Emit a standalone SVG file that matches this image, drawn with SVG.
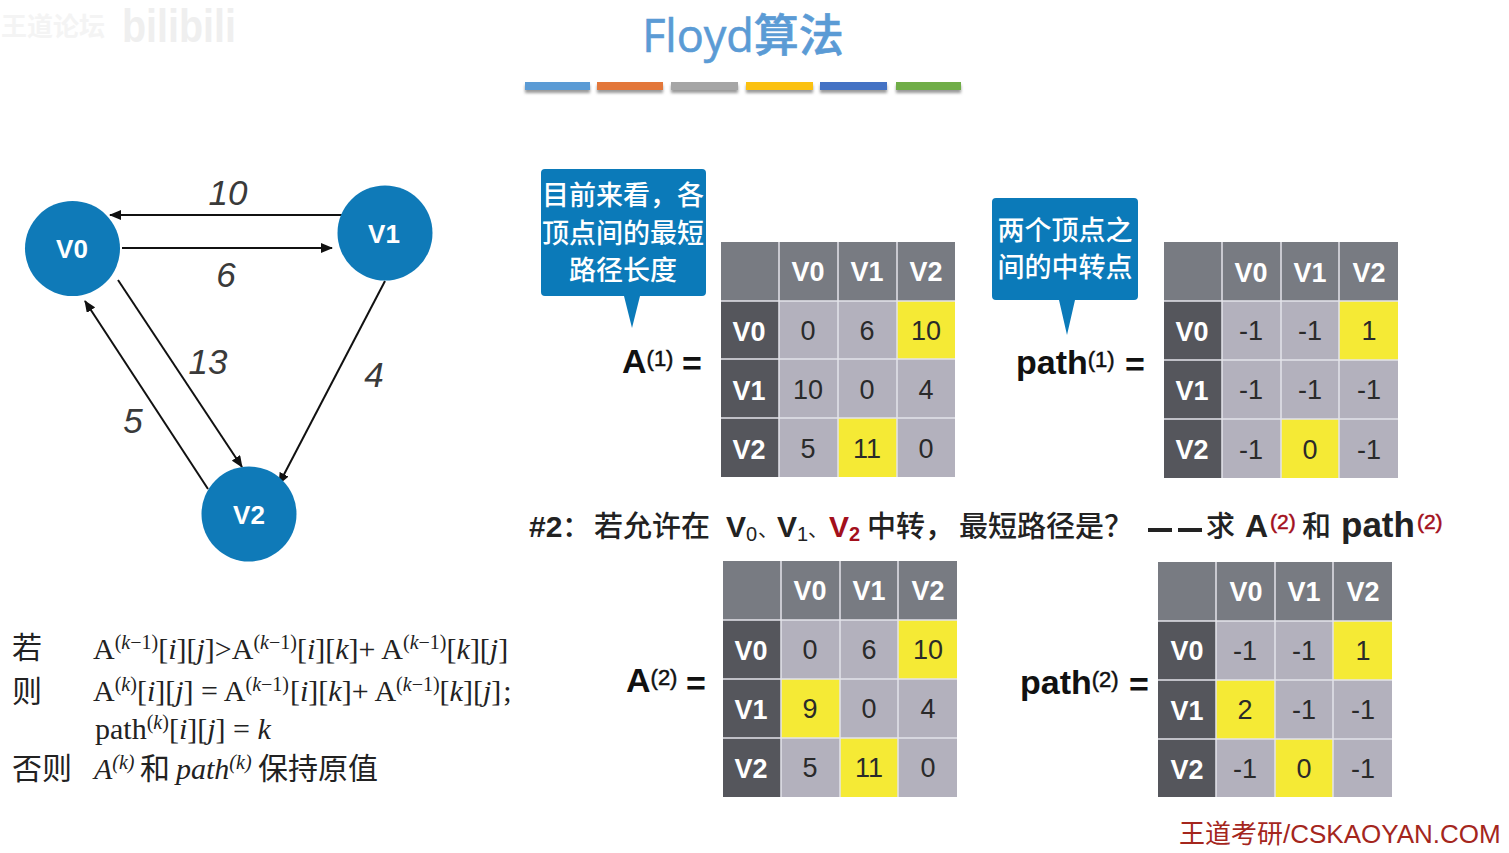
<svg xmlns="http://www.w3.org/2000/svg" width="1509" height="853" viewBox="0 0 1509 853">
<style>
text{font-family:"Liberation Sans","Noto Sans CJK SC",sans-serif}
.cjk{font-family:"Noto Sans CJK SC",sans-serif}
.hd{fill:#787b82}.rh{fill:#55565c}.c{fill:#b3b1bd}.y{fill:#f5ea35}
.grid{stroke:#e4e4ea;stroke-width:1.5}
.h{font-size:27px;font-weight:bold;fill:#fff;text-anchor:middle}
.n{font-size:27px;fill:#2a2a2a;text-anchor:middle}
.nl{font-size:26px;font-weight:bold;fill:#fff;text-anchor:middle}
.node{fill:#0f7ab8}
.e{stroke:#111;stroke-width:2;fill:none;marker-end:url(#ah)}
.w{font-size:35px;font-style:italic;fill:#3a3a3a;text-anchor:middle}
.call{fill:#0b7ab9}
.ct{font-family:"Noto Sans CJK SC",sans-serif;font-size:27px;font-weight:500;fill:#fff;text-anchor:middle}
.eq{font-size:34px;font-weight:bold;fill:#111}
.sup{font-size:22px;font-weight:normal;stroke:#111;stroke-width:.5}
.f{font-family:"Liberation Serif","Noto Sans CJK SC",serif;font-size:30px;fill:#222}
.fc{font-family:"Noto Sans CJK SC",sans-serif;font-size:30px;fill:#222}
.s{font-size:20px}
.i{font-style:italic}
.q{font-family:"Noto Sans CJK SC",sans-serif;font-size:29px;font-weight:500;fill:#222}
.qb{font-size:30px;font-weight:bold;fill:#222}
.r{font-size:21px;font-weight:normal;fill:#a3101c;stroke:#a3101c;stroke-width:.5}
</style>
<defs>
<marker id="ah" markerWidth="12" markerHeight="10" refX="11" refY="5" orient="auto" markerUnits="userSpaceOnUse"><path d="M0 0L12 5L0 10z" fill="#111"/></marker>
<filter id="sh" x="-10%" y="-50%" width="120%" height="220%"><feGaussianBlur stdDeviation="1.500"/></filter>
</defs>
<rect width="1509" height="853" fill="#fff"/>

<g id="watermark">
<text x="1" y="36" class="cjk" font-size="26" font-weight="bold" fill="#f4f4f4">王道论坛</text>
<text x="122" y="42" font-size="46" font-weight="bold" fill="#efefef" textLength="114" lengthAdjust="spacingAndGlyphs">bilibili</text>
</g>

<g id="title">
<text x="743" y="52" font-size="45" font-weight="500" fill="#5b9bd5" stroke="#5b9bd5" stroke-width=".6" text-anchor="middle" style="font-family:'Open Sans','Noto Sans CJK SC',sans-serif">Floyd算法</text>
<g fill="#999" filter="url(#sh)">
<rect x="525" y="85" width="65" height="8"/><rect x="597" y="85" width="66" height="8"/><rect x="671" y="85" width="67" height="8"/><rect x="746" y="85" width="67" height="8"/><rect x="820" y="85" width="67" height="8"/><rect x="896" y="85" width="65" height="8"/>
</g>
<rect x="525" y="82" width="65" height="8" fill="#5b9bd5"/>
<rect x="597" y="82" width="66" height="8" fill="#e3773a"/>
<rect x="671" y="82" width="67" height="8" fill="#a5a5a5"/>
<rect x="746" y="82" width="67" height="8" fill="#fbc110"/>
<rect x="820" y="82" width="67" height="8" fill="#4472c4"/>
<rect x="896" y="82" width="65" height="8" fill="#70ad47"/>
</g>

<g id="connectors">
<path class="e" d="M345 215L110 215"/>
<path class="e" d="M122 248L332 248"/>
<path class="e" d="M118 280L242 467"/>
<path class="e" d="M208 489L85 301"/>
<path class="e" d="M385 281L279 484"/>
<text class="w" x="228" y="205">10</text>
<text class="w" x="226" y="287">6</text>
<text class="w" x="208" y="374">13</text>
<text class="w" x="133" y="433">5</text>
<text class="w" x="374" y="387">4</text>
</g>
<g id="nodeV0"><circle class="node" cx="72.500" cy="248.500" r="47.500"/><text class="nl" x="72" y="258">V0</text></g>
<g id="nodeV1"><circle class="node" cx="385" cy="233" r="47.500"/><text class="nl" x="384" y="243">V1</text></g>
<g id="nodeV2"><circle class="node" cx="249" cy="514" r="47.500"/><text class="nl" x="249" y="524">V2</text></g>

<g id="callout1">
<path class="call" d="M545 169H702a4 4 0 0 1 4 4V292a4 4 0 0 1-4 4H640L632 328L624 296H545a4 4 0 0 1-4-4V173a4 4 0 0 1 4-4z"/>
<text class="ct" x="623" y="205">目前来看，各</text>
<text class="ct" x="623" y="243">顶点间的最短</text>
<text class="ct" x="623" y="280">路径长度</text>
</g>
<g id="callout2">
<path class="call" d="M996 198H1134a4 4 0 0 1 4 4V296a4 4 0 0 1-4 4H1075L1067 335L1059 300H996a4 4 0 0 1-4-4V202a4 4 0 0 1 4-4z"/>
<text class="ct" x="1065" y="240">两个顶点之</text>
<text class="ct" x="1065" y="277">间的中转点</text>
</g>

<g id="tableA1">
<rect class="hd" x="721" y="242" width="234" height="59"/><rect class="rh" x="721" y="301" width="58" height="176"/><rect class="c" x="779" y="301" width="176" height="176"/>
<rect class="y" x="897" y="301" width="58" height="58"/><rect class="y" x="838" y="418" width="59" height="59"/>
<path class="grid" d="M779 242V477M838 242V477M897 242V477M721 301H955M721 359H955M721 418H955"/>
<text class="h" x="808" y="281">V0</text><text class="h" x="867" y="281">V1</text><text class="h" x="926" y="281">V2</text>
<text class="h" x="749" y="341">V0</text><text class="h" x="749" y="400">V1</text><text class="h" x="749" y="459">V2</text>
<text class="n" x="808" y="340">0</text><text class="n" x="867" y="340">6</text><text class="n" x="926" y="340">10</text>
<text class="n" x="808" y="399">10</text><text class="n" x="867" y="399">0</text><text class="n" x="926" y="399">4</text>
<text class="n" x="808" y="458">5</text><text class="n" x="867" y="458">11</text><text class="n" x="926" y="458">0</text>
</g>
<g id="tablePath1">
<rect class="hd" x="1164" y="242" width="234" height="59"/><rect class="rh" x="1164" y="301" width="58" height="177"/><rect class="c" x="1222" y="301" width="176" height="177"/>
<rect class="y" x="1339" y="301" width="59" height="59"/><rect class="y" x="1281" y="419" width="58" height="59"/>
<path class="grid" d="M1222 242V478M1281 242V478M1339 242V478M1164 301H1398M1164 360H1398M1164 419H1398"/>
<text class="h" x="1251" y="282">V0</text><text class="h" x="1310" y="282">V1</text><text class="h" x="1369" y="282">V2</text>
<text class="h" x="1192" y="341">V0</text><text class="h" x="1192" y="400">V1</text><text class="h" x="1192" y="459">V2</text>
<text class="n" x="1251" y="340">-1</text><text class="n" x="1310" y="340">-1</text><text class="n" x="1369" y="340">1</text>
<text class="n" x="1251" y="399">-1</text><text class="n" x="1310" y="399">-1</text><text class="n" x="1369" y="399">-1</text>
<text class="n" x="1251" y="459">-1</text><text class="n" x="1310" y="459">0</text><text class="n" x="1369" y="459">-1</text>
</g>
<g id="tableA2">
<rect class="hd" x="723" y="561" width="234" height="59"/><rect class="rh" x="723" y="620" width="58" height="177"/><rect class="c" x="781" y="620" width="176" height="177"/>
<rect class="y" x="898" y="620" width="59" height="59"/><rect class="y" x="781" y="679" width="59" height="59"/><rect class="y" x="840" y="738" width="58" height="59"/>
<path class="grid" d="M781 561V797M840 561V797M898 561V797M723 620H957M723 679H957M723 738H957"/>
<text class="h" x="810" y="600">V0</text><text class="h" x="869" y="600">V1</text><text class="h" x="928" y="600">V2</text>
<text class="h" x="751" y="660">V0</text><text class="h" x="751" y="719">V1</text><text class="h" x="751" y="778">V2</text>
<text class="n" x="810" y="659">0</text><text class="n" x="869" y="659">6</text><text class="n" x="928" y="659">10</text>
<text class="n" x="810" y="718">9</text><text class="n" x="869" y="718">0</text><text class="n" x="928" y="718">4</text>
<text class="n" x="810" y="777">5</text><text class="n" x="869" y="777">11</text><text class="n" x="928" y="777">0</text>
</g>
<g id="tablePath2">
<rect class="hd" x="1158" y="562" width="234" height="59"/><rect class="rh" x="1158" y="621" width="58" height="176"/><rect class="c" x="1216" y="621" width="176" height="176"/>
<rect class="y" x="1333" y="621" width="59" height="59"/><rect class="y" x="1216" y="680" width="59" height="59"/><rect class="y" x="1275" y="739" width="58" height="58"/>
<path class="grid" d="M1216 562V797M1275 562V797M1333 562V797M1158 621H1392M1158 680H1392M1158 739H1392"/>
<text class="h" x="1246" y="601">V0</text><text class="h" x="1304" y="601">V1</text><text class="h" x="1363" y="601">V2</text>
<text class="h" x="1187" y="660">V0</text><text class="h" x="1187" y="720">V1</text><text class="h" x="1187" y="779">V2</text>
<text class="n" x="1245" y="660">-1</text><text class="n" x="1304" y="660">-1</text><text class="n" x="1363" y="660">1</text>
<text class="n" x="1245" y="719">2</text><text class="n" x="1304" y="719">-1</text><text class="n" x="1363" y="719">-1</text>
<text class="n" x="1245" y="778">-1</text><text class="n" x="1304" y="778">0</text><text class="n" x="1363" y="778">-1</text>
</g>

<g id="equations">
<text class="eq" x="622" y="373">A<tspan class="sup" dy="-7">(1)</tspan></text><text class="eq" x="682" y="375">=</text>
<text class="eq" x="1016" y="374">path<tspan class="sup" dy="-7">(1)</tspan></text><text class="eq" x="1125" y="376">=</text>
<text class="eq" x="626" y="692">A<tspan class="sup" dy="-7">(2)</tspan></text><text class="eq" x="686" y="695">=</text>
<text class="eq" x="1020" y="694">path<tspan class="sup" dy="-7">(2)</tspan></text><text class="eq" x="1129" y="696">=</text>
</g>

<g id="question">
<text x="529" y="537" class="qb">#2</text>
<text x="562" y="537" class="q">：</text>
<text x="594" y="537" class="q">若允许在</text>
<text x="726" y="537" class="qb">V<tspan font-size="20" font-weight="normal" dy="4">0</tspan></text>
<text x="758" y="537" class="cjk" font-size="20" fill="#222">、</text>
<text x="777" y="537" class="qb">V<tspan font-size="20" font-weight="normal" dy="4">1</tspan></text>
<text x="808" y="537" class="cjk" font-size="20" fill="#222">、</text>
<text x="829" y="537" class="qb" style="fill:#a3101c">V<tspan font-size="20" dy="4">2</tspan></text>
<text x="867" y="537" class="q">中转，</text>
<text x="959" y="537" class="q">最短路径是？</text>
<rect x="1148" y="528" width="24" height="4" fill="#222"/><rect x="1178" y="528" width="24" height="4" fill="#222"/>
<text x="1206" y="537" class="q">求</text>
<text x="1245" y="537" font-size="32" font-weight="bold" fill="#222">A<tspan class="r" dy="-8" dx="2">(2)</tspan></text>
<text x="1302" y="537" class="q">和</text>
<text x="1341" y="537" font-size="35" font-weight="bold" fill="#222">path<tspan class="r" dy="-8" dx="2">(2)</tspan></text>
</g>

<g id="formula">
<text class="fc" x="12" y="658">若</text>
<text class="fc" x="12" y="702">则</text>
<text class="fc" x="12" y="779">否则</text>
<text class="f" x="93" y="659">A<tspan class="s" dy="-10">(<tspan class="i">k</tspan>−1)</tspan><tspan dy="10">[<tspan class="i">i</tspan>][<tspan class="i">j</tspan>]&gt;A</tspan><tspan class="s" dy="-10">(<tspan class="i">k</tspan>−1)</tspan><tspan dy="10">[<tspan class="i">i</tspan>][<tspan class="i">k</tspan>]+ A</tspan><tspan class="s" dy="-10">(<tspan class="i">k</tspan>−1)</tspan><tspan dy="10">[<tspan class="i">k</tspan>][<tspan class="i">j</tspan>]</tspan></text>
<text class="f" x="93" y="701">A<tspan class="s" dy="-10">(<tspan class="i">k</tspan>)</tspan><tspan dy="10">[<tspan class="i">i</tspan>][<tspan class="i">j</tspan>] = A</tspan><tspan class="s" dy="-10">(<tspan class="i">k</tspan>−1)</tspan><tspan dy="10" dx="1">[<tspan class="i">i</tspan>][<tspan class="i">k</tspan>]+ A</tspan><tspan class="s" dy="-10">(<tspan class="i">k</tspan>−1)</tspan><tspan dy="10">[<tspan class="i">k</tspan>][<tspan class="i">j</tspan>]</tspan><tspan dx="2">;</tspan></text>
<text class="f" x="95" y="739">path<tspan class="s" dy="-10">(<tspan class="i">k</tspan>)</tspan><tspan dy="10">[<tspan class="i">i</tspan>][<tspan class="i">j</tspan>] = <tspan class="i">k</tspan></tspan></text>
<text class="f" x="94" y="779"><tspan class="i">A</tspan><tspan class="s i" dy="-10">(k)</tspan></text>
<text class="fc" x="140" y="779">和</text>
<text class="f i" x="176" y="779">path<tspan class="s" dy="-10">(k)</tspan></text>
<text class="fc" x="258" y="779">保持原值</text>
</g>

<text id="footer" x="1179" y="843" font-size="26" fill="#a4261d">王道考研/CSKAOYAN.COM</text>
</svg>
